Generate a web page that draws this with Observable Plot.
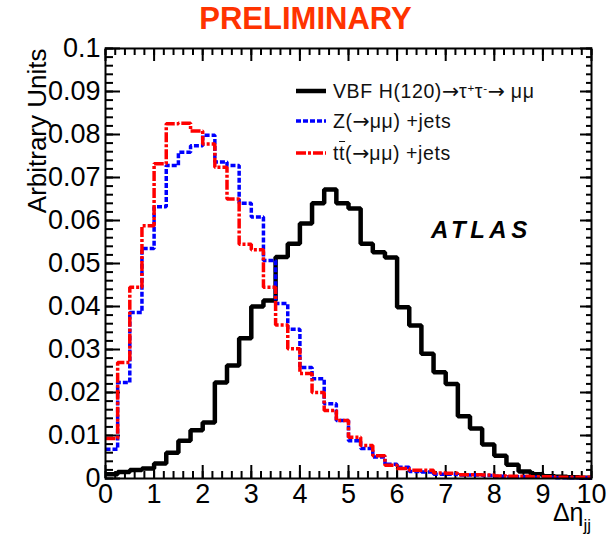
<!DOCTYPE html>
<html>
<head>
<meta charset="utf-8">
<script src="https://cdn.jsdelivr.net/npm/d3@7"></script>
<script src="https://cdn.jsdelivr.net/npm/@observablehq/plot@0.6"></script>
<style>
  body { margin: 0; background: #fff; font-family: "Liberation Sans", Arial, sans-serif; }
  #wrap { position: relative; width: 611px; height: 540px; overflow: hidden; }
  #title { height: 37px; line-height: 37px; text-align: center; color: #ff3300; font-weight: bold; font-size: 31px; }
  .leg { position: absolute; left: 296px; height: 24px; line-height: 24px; font-size: 19.5px; color: #111; white-space: nowrap; letter-spacing: 0.6px; }
  .leg svg { position: absolute; left: 0; top: 0; }
  .leg span.t { position: absolute; left: 37px; top: 0; }
  .arr { font-family: "DejaVu Sans", sans-serif; font-size: 1.05em; letter-spacing: 0; }
  sup { font-size: 0.6em; vertical-align: 0.55em; line-height: 0; }
  #atlas { position: absolute; left: 431px; top: 218px; font-size: 24px; font-weight: bold; font-style: italic; letter-spacing: 4.5px; line-height: 24px; }
</style>
</head>
<body>
<div id="wrap">
  <div id="title">PRELIMINARY</div>
  <div id="chart"></div>
  <div class="leg" style="top:79px"><svg width="30" height="24"><line x1="0" x2="30" y1="12" y2="12" stroke="#000" stroke-width="4.5"/></svg><span class="t">VBF H(120)<span class="arr">→</span>τ<sup>+</sup>τ<sup>-</sup><span class="arr">→</span> μμ</span></div>
  <div class="leg" style="top:109px"><svg width="30" height="24"><line x1="0" x2="30" y1="12" y2="12" stroke="#0000ff" stroke-width="3.5" stroke-dasharray="5,2"/></svg><span class="t">Z(<span class="arr">→</span>μμ) +jets</span></div>
  <div class="leg" style="top:141px"><svg width="30" height="24"><line x1="0" x2="30" y1="12" y2="12" stroke="#ff0000" stroke-width="3.5" stroke-dasharray="10,2,3,2"/></svg><span class="t">t<span style="text-decoration:overline">t</span>(<span class="arr">→</span>μμ) +jets</span></div>
  <div id="atlas">ATLAS</div>
</div>
<script>
// Bin edges (0.25 wide bins from 0 to 10)
const binEdges = d3.range(0, 10.25, 0.25);

// VBF H(120)->tautau->mumu
const vbf = [0.0010, 0.0015, 0.0020, 0.0023, 0.0035, 0.0060, 0.0088, 0.0112, 0.0130, 0.0223,
             0.0263, 0.0326, 0.0400, 0.0414, 0.0515, 0.0546, 0.0593, 0.0640, 0.0672, 0.0640,
             0.0628, 0.0546, 0.0526, 0.0514, 0.0398, 0.0356, 0.0290, 0.0247, 0.0220, 0.0145,
             0.0116, 0.0079, 0.0053, 0.0032, 0.0016, 0.0010, 0.0005, 0.0004, 0.0003, 0.0002];
// Z(->mumu)+jets
const zjets = [0.0068, 0.0223, 0.0386, 0.0535, 0.0632, 0.0728, 0.0759, 0.0774, 0.0798, 0.0736,
               0.0728, 0.0640, 0.0608, 0.0507, 0.0407, 0.0347, 0.0258, 0.0232, 0.0174, 0.0135,
               0.0088, 0.0070, 0.0050, 0.0033, 0.0026, 0.0016, 0.0015, 0.0010, 0.0010, 0.0008,
               0.0008, 0.0007, 0.0005, 0.0004, 0.0004, 0.0003, 0.0003, 0.0002, 0.0002, 0.0002];
// ttbar(->mumu)+jets
const ttbar = [0.0093, 0.0270, 0.0445, 0.0588, 0.0732, 0.0825, 0.0826, 0.0808, 0.0778, 0.0724,
               0.0650, 0.0545, 0.0532, 0.0445, 0.0357, 0.0302, 0.0244, 0.0200, 0.0158, 0.0135,
               0.0096, 0.0077, 0.0053, 0.0031, 0.0023, 0.0019, 0.0019, 0.0013, 0.0012, 0.0009,
               0.0009, 0.0008, 0.0006, 0.0005, 0.0005, 0.0004, 0.0004, 0.0003, 0.0003, 0.0003];

const xTickValues = [0, 1, 2, 3, 4, 5, 6, 7, 8, 9, 10];
const yTickValues = [0, 0.01, 0.02, 0.03, 0.04, 0.05, 0.06, 0.07, 0.08, 0.09, 0.1];
const yTickLabels = ["0", "0.01", "0.02", "0.03", "0.04", "0.05", "0.06", "0.07", "0.08", "0.09", "0.1"];
const xMinor = d3.range(0, 50.5, 1).map(i => i / 5);
const yMinor = d3.range(0, 50.5, 1).map(i => i / 500);

function steps(values) {
  const pts = values.map((v, i) => ({x: binEdges[i], y: v}));
  pts.push({x: binEdges[values.length], y: values[values.length - 1]});
  return pts;
}

const blank = () => "";
const tk = {stroke: "black", strokeWidth: 2, label: null};

const chart = Plot.plot({
  width: 611,
  height: 503,
  marginLeft: 105,
  marginRight: 20,
  marginTop: 11,
  marginBottom: 62,
  style: {fontFamily: "'Liberation Sans', Arial, sans-serif", fontSize: "27px", overflow: "visible"},
  x: {domain: [0, 10]},
  y: {domain: [0, 0.1]},
  marks: [
    // major ticks pointing inward, with labels outside
    Plot.axisX(xTickValues, {anchor: "bottom", tickSize: -13, tickPadding: 18, fontSize: 27, tickFormat: d => String(d), ...tk}),
    Plot.axisY(yTickValues, {anchor: "left", tickSize: -15, tickPadding: 20, fontSize: 27, tickFormat: d => yTickLabels[yTickValues.indexOf(d)], ...tk}),
    // minor ticks and top/right ticks
    Plot.axisX(xMinor, {anchor: "bottom", tickSize: -7, tickFormat: blank, ...tk}),
    Plot.axisX(xTickValues, {anchor: "top", tickSize: -12, tickFormat: blank, ...tk}),
    Plot.axisX(xMinor, {anchor: "top", tickSize: -6, tickFormat: blank, ...tk}),
    Plot.axisY(yMinor, {anchor: "left", tickSize: -8, tickFormat: blank, ...tk}),
    Plot.axisY(yTickValues, {anchor: "right", tickSize: -12, tickFormat: blank, ...tk}),
    Plot.axisY(yMinor, {anchor: "right", tickSize: -6, tickFormat: blank, ...tk}),
    // histograms
    Plot.line(steps(vbf), {x: "x", y: "y", curve: "step-after", stroke: "#000", strokeWidth: 4.5, strokeLinejoin: "miter", strokeLinecap: "butt"}),
    Plot.line(steps(zjets), {x: "x", y: "y", curve: "step-after", stroke: "#0000ff", strokeWidth: 3.5, strokeDasharray: "5,2", strokeLinejoin: "miter", strokeLinecap: "butt"}),
    Plot.line(steps(ttbar), {x: "x", y: "y", curve: "step-after", stroke: "#ff0000", strokeWidth: 3.5, strokeDasharray: "10,2,3,2", strokeLinejoin: "miter", strokeLinecap: "butt"}),
    Plot.frame({stroke: "#000", strokeWidth: 2}),
    // axis titles
    Plot.text(["Arbitrary Units"], {frameAnchor: "top-left", text: d => d, rotate: -90, textAnchor: "end", dx: -78, fontSize: 26}),
    Plot.text(["Δη"], {frameAnchor: "bottom-right", text: d => d, textAnchor: "end", dx: -8, dy: 42, fontSize: 25}),
    Plot.text(["jj"], {frameAnchor: "bottom-right", text: d => d, textAnchor: "start", dx: -8, dy: 52, fontSize: 17})
  ]
});
document.getElementById("chart").appendChild(chart);
</script>
</body>
</html>
